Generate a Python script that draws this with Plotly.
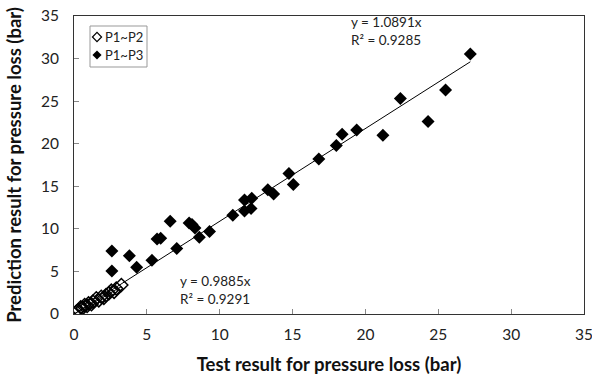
import plotly.graph_objects as go

# P1~P2 (open diamonds): test result vs prediction result (bar)
p12_test = [0.16, 0.30, 0.46, 0.60, 0.73, 0.90, 1.00, 1.20, 1.30, 1.53, 1.70, 1.87, 2.05, 2.20, 2.40, 2.56, 2.75, 2.90, 3.25]
p12_pred = [0.27, 0.45, 0.79, 0.70, 1.06, 0.95, 1.26, 1.15, 1.45, 1.85, 1.60, 2.03, 1.90, 2.23, 2.45, 2.74, 2.60, 3.00, 3.40]

# P1~P3 (filled diamonds)
p13_test = [2.6, 2.6, 3.8, 4.3, 5.35, 5.7, 5.95, 6.6, 7.05, 7.9, 8.1, 8.3, 8.6, 9.3,
            10.9, 11.7, 11.7, 12.15, 12.2, 13.3, 13.7, 14.75, 15.05, 16.8, 18.0, 18.4,
            19.4, 21.2, 22.4, 24.3, 25.5, 27.2]
p13_pred = [7.4, 5.05, 6.85, 5.5, 6.3, 8.8, 8.9, 10.9, 7.7, 10.7, 10.5, 10.1, 9.0, 9.7,
            11.6, 12.1, 13.4, 12.4, 13.6, 14.6, 14.1, 16.5, 15.2, 18.2, 19.8, 21.1,
            21.6, 21.0, 25.3, 22.6, 26.3, 30.55]

slope_p12 = 0.9885
slope_p13 = 1.0891

x_ticks = [0, 5, 10, 15, 20, 25, 30, 35]
y_ticks = [0, 5, 10, 15, 20, 25, 30, 35]
series_names = ["P1~P2", "P1~P3"]

FONT = "Lato"
W, H = 592, 384
L, R, T, B = 74, 8, 16, 70
PW, PH = W - L - R, H - T - B

fig = go.Figure()

# trendlines
x13_max = max(p13_test)
fig.add_trace(go.Scatter(x=[0, x13_max], y=[0, slope_p13 * x13_max], mode="lines",
                         line=dict(color="black", width=1), showlegend=False, hoverinfo="skip"))
x12 = [min(p12_test), max(p12_test)]
fig.add_trace(go.Scatter(x=x12, y=[slope_p12 * v for v in x12], mode="lines",
                         line=dict(color="black", width=1), showlegend=False, hoverinfo="skip"))

open_marker = dict(symbol="diamond-open", size=10, color="black", line=dict(width=1.5, color="black"))
fill_marker = dict(symbol="diamond", size=10, color="black")

fig.add_trace(go.Scatter(x=p12_test, y=p12_pred, mode="markers", name=series_names[0],
                         marker=open_marker, showlegend=False))
fig.add_trace(go.Scatter(x=p13_test, y=p13_pred, mode="markers", name=series_names[1],
                         marker=fill_marker, showlegend=False))

# custom legend (overlay axis in pixel units of the plot area)
def px_x(px):
    return px - L
def px_y(py):
    return (H - B) - py

leg_box = dict(x0=90, x1=147, y0=26, y1=67)
fig.add_shape(type="rect", xref="x2", yref="y2",
              x0=px_x(leg_box["x0"]), x1=px_x(leg_box["x1"]),
              y0=px_y(leg_box["y0"]), y1=px_y(leg_box["y1"]),
              line=dict(color="#999", width=1), fillcolor="white", layer="below")
leg_rows = [37, 55]
for name, mk, row in zip(series_names, [open_marker, fill_marker], leg_rows):
    m = dict(mk)
    m["size"] = 7
    if "line" in m:
        m["line"] = dict(width=1.2, color="black")
    fig.add_trace(go.Scatter(x=[px_x(97)], y=[px_y(row)], xaxis="x2", yaxis="y2",
                             mode="markers", marker=m, showlegend=False, hoverinfo="skip"))
    fig.add_annotation(x=px_x(103), y=px_y(row), xref="x2", yref="y2", xanchor="left",
                       yanchor="middle", text=name, showarrow=False,
                       font=dict(family=FONT, size=13, color="#222"))

fig.add_annotation(x=0.54, y=0.948, xref="paper", yref="paper", xanchor="left", yanchor="middle",
                   text="y = 1.0891x<br>R² = 0.9285", showarrow=False, align="left",
                   font=dict(family=FONT, size=13.5, color="#222"))
fig.add_annotation(x=0.204, y=0.08, xref="paper", yref="paper", xanchor="left", yanchor="middle",
                   text="y = 0.9885x<br>R² = 0.9291", showarrow=False, align="left",
                   font=dict(family=FONT, size=13.5, color="#222"))

axis_common = dict(showgrid=False, zeroline=False, showline=True, linecolor="#333", linewidth=1,
                   mirror=True, ticks="inside", ticklen=5, tickcolor="#888",
                   ticklabeloverflow="allow", automargin=False,
                   tickfont=dict(family=FONT, size=15.5, color="#222"))

fig.update_layout(
    xaxis=dict(range=[0, 35], tickvals=x_ticks, ticklabelstandoff=6, **axis_common,
               title=dict(text="<b>Test result for pressure loss (bar)</b>", standoff=16,
                          font=dict(family=FONT, size=18.5, color="#111"))),
    yaxis=dict(range=[0, 35], tickvals=y_ticks, ticklabelstandoff=11, **axis_common,
               title=dict(text="<b>Prediction result for pressure loss (bar)</b>", standoff=14,
                          font=dict(family=FONT, size=18.5, color="#111"))),
    xaxis2=dict(overlaying="x", range=[0, PW], visible=False, anchor="y2"),
    yaxis2=dict(overlaying="y", range=[0, PH], visible=False, anchor="x2"),
    width=W, height=H,
    margin=dict(l=L, r=R, t=T, b=B),
    plot_bgcolor="white", paper_bgcolor="white",
    showlegend=False,
)

fig.write_html("out.html")
